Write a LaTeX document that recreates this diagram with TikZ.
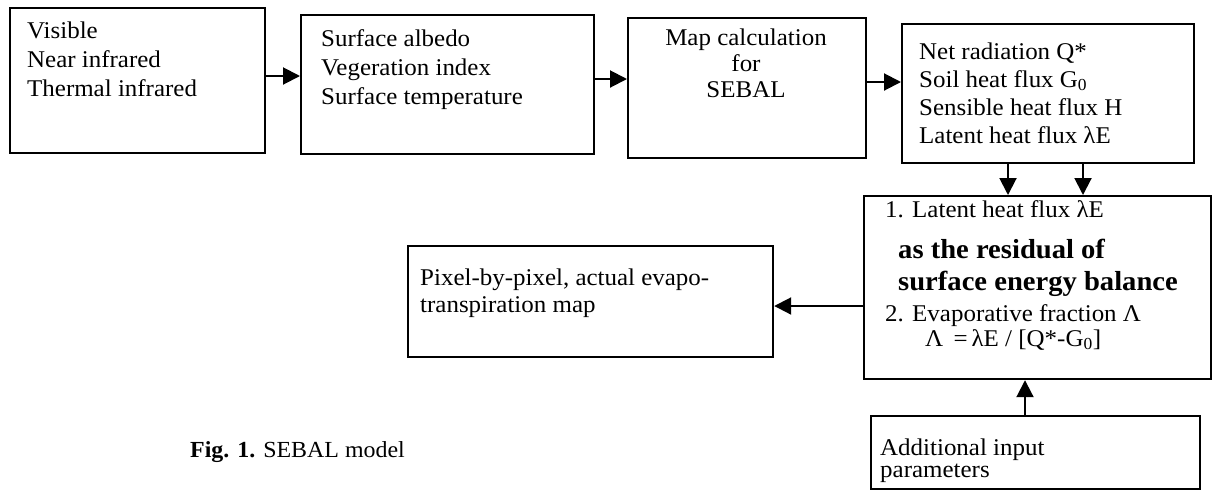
\documentclass[tikz,border=0pt]{standalone}
\usepackage{fontspec}
\setmainfont{Liberation Serif}[FakeStretch=1.04]
\usetikzlibrary{arrows.meta,calc}
\begin{document}
\begin{tikzpicture}[x=1pt,y=-1pt,
  box/.style={draw, line width=2.2pt, anchor=north west, inner sep=0pt},
  arr/.style={line width=2pt, -{Triangle[length=17pt,width=17pt]}},
  txt/.style={anchor=base west, inner sep=0pt, font=\fontsize{24}{28}\selectfont},
  ctxt/.style={anchor=base, inner sep=0pt, font=\fontsize{24}{28}\selectfont},
  btxt/.style={anchor=base west, inner sep=0pt, font=\fontsize{27.5}{32}\selectfont\bfseries},
  captxt/.style={anchor=base west, inner sep=0pt, font=\fontsize{23}{26}\selectfont}]
\useasboundingbox (0,0) rectangle (1215,491);
% boxes
\node[box, minimum width=255pt, minimum height=145pt] (b1) at (9,7) {};
\node[box, minimum width=293pt, minimum height=139pt] (b2) at (300,14) {};
\node[box, minimum width=238pt, minimum height=140pt] (b3) at (627,17) {};
\node[box, minimum width=292pt, minimum height=139pt] (b4) at (901,23) {};
\node[box, minimum width=347pt, minimum height=183pt] (b5) at (863,195) {};
\node[box, minimum width=329pt, minimum height=73pt] (b6) at (870,415) {};
\node[box, minimum width=365pt, minimum height=111pt] (b7) at (407,245) {};
% texts
\node[txt] (t1a) at (27,38) {Visible};
\node[txt] (t1b) at (27,67) {Near infrared};
\node[txt] (t1c) at (27,96) {Thermal infrared};
\node[txt] (t2a) at (321,46) {Surface albedo};
\node[txt] (t2b) at (321,75) {Vegeration index};
\node[txt] (t2c) at (321,104) {Surface temperature};
\node[ctxt] (t3a) at (746,45) {Map calculation};
\node[ctxt] (t3b) at (746,71) {for};
\node[ctxt] (t3c) at (746,97) {SEBAL};
\node[txt] (t4a) at (919,59) {Net radiation Q*};
\node[txt] (t4b) at (919,87) {Soil heat flux G\textsubscript{0}};
\node[txt] (t4c) at (919,115) {Sensible heat flux H};
\node[txt] (t4d) at (919,143) {Latent heat flux λE};
\node[txt] (t5a) at (885,217) {1. Latent heat flux λE};
\node[btxt] (t5b) at (898,258) {as the residual of};
\node[btxt] (t5c) at (898,290) {surface energy balance};
\node[txt] (t5d) at (885,321) {2. Evaporative fraction Λ};
\node[txt] (t5e) at (925,346) {Λ \,=\,λE / [Q*-G\textsubscript{0}]};
\node[txt] (t6a) at (880,455) {Additional input};
\node[txt] (t6b) at (880,477) {parameters};
\node[txt] (t7a) at (420,285) {Pixel-by-pixel, actual evapo-};
\node[txt] (t7b) at (420,312) {transpiration map};
\node[captxt] (capt) at (190,457) {\textbf{Fig. 1.} SEBAL model};
% connectors
\draw[arr] (b1.east |- 0,76) -- (b2.west |- 0,76);
\draw[arr] (b2.east |- 0,79) -- (b3.west |- 0,79);
\draw[arr] (b3.east |- 0,82) -- (b4.west |- 0,82);
\draw[arr] (b4.south -| 1008,0) -- (b5.north -| 1008,0);
\draw[arr] (b4.south -| 1083,0) -- (b5.north -| 1083,0);
\draw[arr] (b6.north -| 1025,0) -- (b5.south -| 1025,0);
\draw[arr] (b5.west |- 0,306) -- (b7.east |- 0,306);
\end{tikzpicture}
\end{document}
